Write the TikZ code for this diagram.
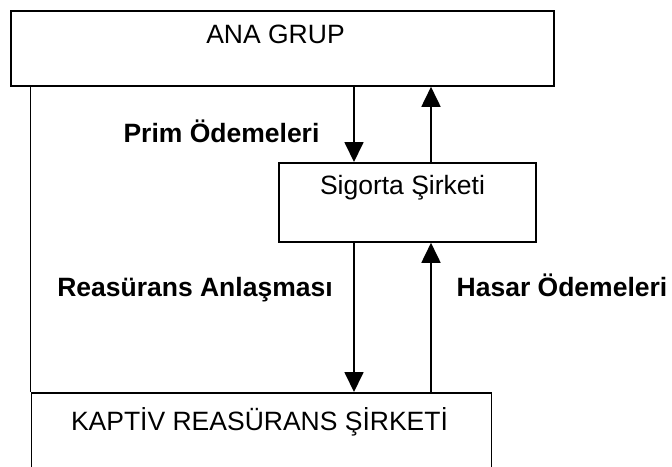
\documentclass[tikz,border=0pt]{standalone}
\usepackage{fontspec}
\setmainfont{Liberation Sans}
\usetikzlibrary{arrows.meta}
\begin{document}
\begin{tikzpicture}[x=1pt,y=-1pt,
  box/.style={draw,line width=1.8pt,rectangle,inner sep=0pt,anchor=north west},
  lbl/.style={inner sep=0pt,anchor=base,font=\fontsize{26.5}{30}\selectfont},
  blbl/.style={inner sep=0pt,anchor=base,font=\fontsize{26.5}{30}\selectfont\bfseries},
  arr/.style={line width=1.8pt,-{Triangle[length=20pt,width=19pt]}},
  ln/.style={line width=1.8pt}]
\clip (0,0) rectangle (672,466);
\fill[white] (0,0) rectangle (672,466);
% boxes
\node[box,minimum width=543pt,minimum height=75pt] (ana) at (10,10) {};
\node[box,minimum width=257pt,minimum height=79pt] (sig) at (278,162) {};
\node[box,minimum width=460pt,minimum height=100pt] (kap) at (30.5,392) {};
% texts
\node[lbl] (anat) at (275.5,43) {ANA GRUP};
\node[lbl] (sigt) at (402.5,194) {Sigorta Şirketi};
\node[lbl] (kapt) at (259.5,430) {KAPTİV REASÜRANS ŞİRKETİ};
\node[blbl] (prim) at (221.5,142) {Prim Ödemeleri};
\node[blbl] (reas) at (195,296) {Reasürans Anlaşması};
\node[blbl] (hasar) at (562,296) {Hasar Ödemeleri};
% connector columns
\coordinate (cd) at (354,0);
\coordinate (cu) at (431,0);
\draw[arr] (ana.south -| cd) -- (sig.north -| cd);
\draw[arr] (sig.north -| cu) -- (ana.south -| cu);
\draw[arr] (sig.south -| cd) -- (kap.north -| cd);
\draw[arr] (kap.north -| cu) -- (sig.south -| cu);
\draw[ln] (ana.south -| kap.west) -- (kap.north west);
\end{tikzpicture}
\end{document}
